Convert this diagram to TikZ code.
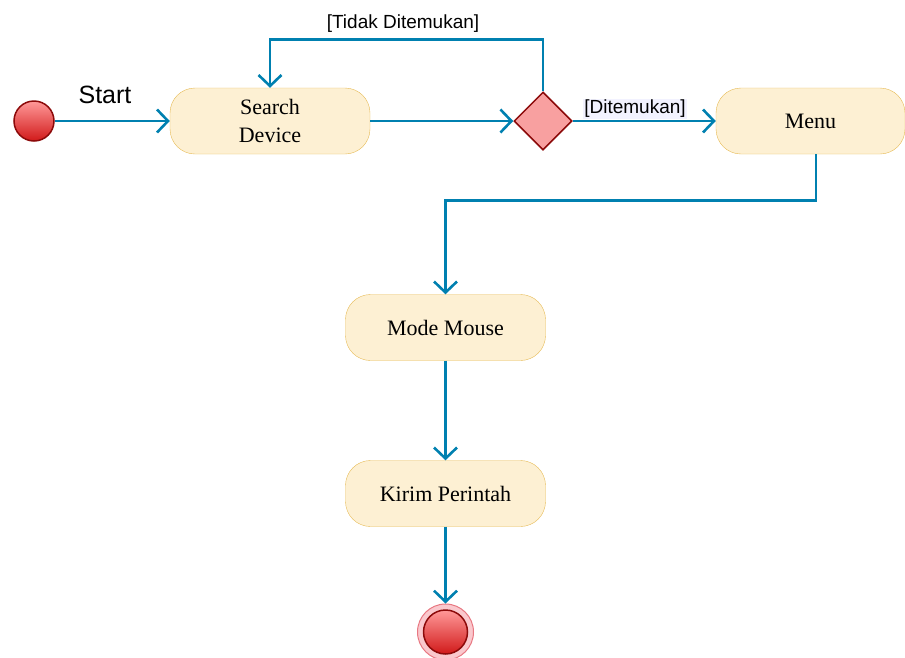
\documentclass[tikz,border=0pt]{standalone}
\usepackage{fontspec}
\setmainfont{Liberation Serif}
\newfontfamily\guardfont{Liberation Sans}
\usetikzlibrary{shapes.geometric,arrows.meta}

\definecolor{flow}{RGB}{0,128,176}
\definecolor{actfill}{RGB}{253,240,211}
\definecolor{actline}{RGB}{230,186,84}
\definecolor{dotline}{RGB}{140,10,10}
\definecolor{choicefill}{RGB}{248,160,160}
\definecolor{ringfill}{RGB}{250,200,205}
\definecolor{ringline}{RGB}{232,120,130}

\begin{document}
\begin{tikzpicture}[x=1pt, y=-1pt]
  \tikzset{>={Straight Barb[length=11pt,width=23pt]}}
  \tikzset{act/.style={draw=actline, fill=actfill, rounded corners=25pt,
      minimum width=200pt, minimum height=66pt, inner sep=0pt, align=center,
      font=\fontsize{22}{28}\selectfont}}
  \tikzset{dot/.style={circle, draw=dotline, line width=1.5pt, inner sep=0pt,
      top color=red!40, bottom color=red!80!black!90}}
  \tikzset{choice/.style={diamond, draw=dotline, fill=choicefill, line width=1.5pt,
      minimum width=58pt, minimum height=58pt, inner sep=0pt}}
  \tikzset{guard/.style={inner sep=1pt, font=\guardfont\fontsize{19}{19}\selectfont}}
  \tikzset{flowline/.style={->, draw=flow, line width=2.6pt}}
  \useasboundingbox (0,0) rectangle (905,657);
  %
  \node [dot, minimum size=40pt] (start) at (34,121) {};
  \node [font=\guardfont\fontsize{25}{25}\selectfont] (startlbl) at (105,95) {Start};
  \node [act] (search) at (270,121) {Search\\Device};
  \node [choice] (cek) at (543,121) {};
  \node [act, minimum width=189pt] (menu) at (810.5,121) {Menu};
  \node [act] (mode) at (445.5,327.5) {Mode Mouse};
  \node [act] (kirim) at (445.5,493.5) {Kirim Perintah};
  \node [circle, draw=ringline, fill=ringfill, line width=1pt,
    minimum size=56pt, inner sep=0pt] (stop) at (445.5,632) {};
  \node [dot, minimum size=44pt] (stopdot) at (stop) {};
  %
  \node [guard] (tidak) at (403,24) {[Tidak Ditemukan]};
  \node [guard, fill=blue!5] (ketemu) at (635,109) {[Ditemukan]};
  %
  \draw [flowline] (start) -- (search);
  \draw [flowline] (search) -- (cek);
  \draw [flowline] (cek.north) -- ++(0,-52) -| (search.north);
  \draw [flowline] (cek) -- (menu);
  \draw [flowline] ([xshift=5.5pt]menu.south) -- ++(0,46) -| (mode.north);
  \foreach \a/\b in {mode/kirim, kirim/stop} {
    \draw [flowline] (\a) -- (\b);
  }
\end{tikzpicture}
\end{document}
